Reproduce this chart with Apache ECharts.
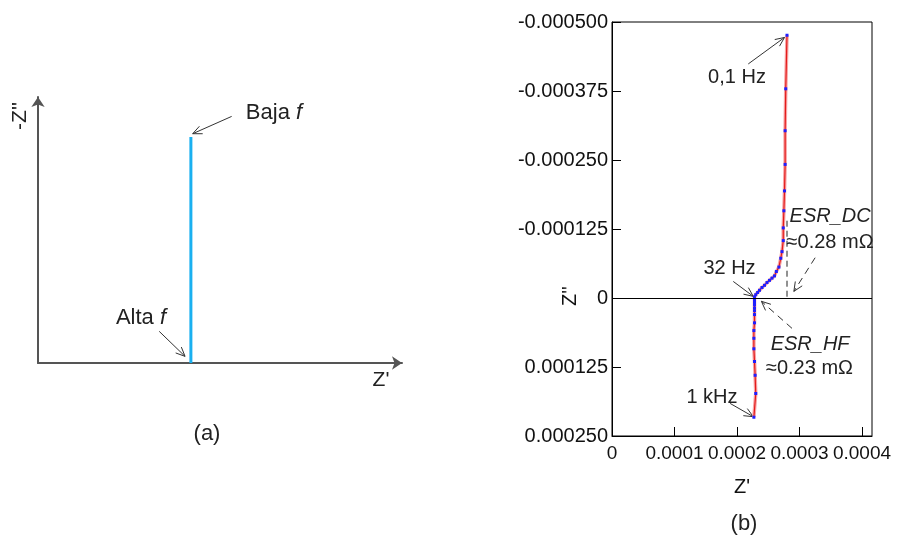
<!DOCTYPE html>
<html>
<head>
<meta charset="utf-8">
<script src="https://cdn.jsdelivr.net/npm/echarts@6/dist/echarts.min.js"></script>
<style>
  html, body { margin: 0; padding: 0; background: #fff; }
  #chart { width: 907px; height: 536px; }
</style>
</head>
<body>
<div id="chart"></div>
<script>
// (b) Measured impedance, ordered from 0.1 Hz down to 1 kHz (values in ohms)
const zReal = [
  0.000280, 0.000278, 0.000277, 0.000277, 0.000276, 0.000275, 0.000274, 0.000274,
  0.000272, 0.000270, 0.000267, 0.000263, 0.000260, 0.000256, 0.000252, 0.000248,
  0.000244, 0.000240, 0.000236, 0.000233, 0.000230, 0.000228,
  0.000228, 0.000228, 0.000228, 0.000228, 0.000228, 0.000228, 0.000228, 0.000227,
  0.000227, 0.000227, 0.000228, 0.000229, 0.000230, 0.000227
];
const zImag = [
  -0.000476, -0.000379, -0.000303, -0.000242, -0.000194, -0.000158, -0.000127, -0.000104,
  -0.000084, -0.000072, -0.000056, -0.000048, -0.000040, -0.000036, -0.000032, -0.000028,
  -0.000023, -0.000019, -0.000014, -0.000010, -0.000006, -0.000002,
  0.000003, 0.000008, 0.000012, 0.000018, 0.000023, 0.000030, 0.000045, 0.000059,
  0.000073, 0.000092, 0.000115, 0.000140, 0.000173, 0.000216
];
const xTickLabels = ['0', '0.0001', '0.0002', '0.0003', '0.0004'];
const yTickLabels = ['-0.000500', '-0.000375', '-0.000250', '-0.000125', '0', '0.000125', '0.000250'];

// Equivalent series resistances
const esrDC = 0.00028;
const esrHF = 0.00023;
const esrDCTop = -0.00014;

// (a) Ideal capacitor: a vertical line at constant Z'
const idealReal = [0.42, 0.42];
const idealImag = [0, 0.85];

const X_MIN = 0, X_MAX = 0.000416, X_STEP = 0.0001;
const Y_MIN = -0.0005, Y_MAX = 0.00025, Y_STEP = 0.000125;

const FONT = '"Liberation Sans", Arial, sans-serif';
const INK = '#222';

const chart = echarts.init(document.getElementById('chart'), null, { renderer: 'canvas' });

function zip(a, b) { return a.map((v, i) => [v, b[i]]); }

function tickText(labels, min, step) {
  return function (v) {
    const k = (v - min) / step;
    const i = Math.round(k);
    if (Math.abs(k - i) > 1e-6 || i < 0 || i >= labels.length) return '';
    return labels[i];
  };
}

const nyquist = zip(zReal, zImag);

chart.setOption({
  animation: false,
  backgroundColor: '#fff',
  grid: [
    { left: 612, top: 22, width: 260, height: 414, show: true, borderColor: '#000', borderWidth: 1, backgroundColor: 'transparent' },
    { left: 38, top: 97, width: 364, height: 266 }
  ],
  xAxis: [
    {
      gridIndex: 0, type: 'value', min: X_MIN, max: X_MAX, interval: X_STEP, position: 'bottom',
      axisLine: { onZero: false, lineStyle: { color: '#000', width: 1 } },
      axisTick: { inside: true, length: 9, lineStyle: { color: '#000' } },
      axisLabel: { formatter: tickText(xTickLabels, X_MIN, X_STEP), showMaxLabel: false, color: '#111', fontSize: 19, fontFamily: FONT, margin: 8 },
      splitLine: { show: false }
    },
    {
      gridIndex: 1, type: 'value', min: 0, max: 1,
      axisLine: { onZero: false, symbol: ['none', 'arrow'], symbolSize: [10, 10], lineStyle: { color: '#555', width: 2 } },
      axisTick: { show: false }, axisLabel: { show: false }, splitLine: { show: false }
    }
  ],
  yAxis: [
    {
      gridIndex: 0, type: 'value', inverse: true, min: Y_MIN, max: Y_MAX, interval: Y_STEP,
      axisLine: { onZero: false, lineStyle: { color: '#000', width: 1 } },
      axisTick: { inside: true, length: 9, lineStyle: { color: '#000' } },
      axisLabel: { formatter: tickText(yTickLabels, Y_MIN, Y_STEP), color: '#111', fontSize: 20, fontFamily: FONT, margin: 4 },
      splitLine: { show: false }
    },
    {
      gridIndex: 1, type: 'value', min: 0, max: 1,
      axisLine: { onZero: false, symbol: ['none', 'arrow'], symbolSize: [10, 10], lineStyle: { color: '#555', width: 2 } },
      axisTick: { show: false }, axisLabel: { show: false }, splitLine: { show: false }
    }
  ],
  series: [
    {
      // soft halo under the measured curve
      type: 'line', xAxisIndex: 0, yAxisIndex: 0, data: nyquist, showSymbol: false, silent: true,
      lineStyle: { color: '#f7a3a3', width: 3.5 }, z: 2
    },
    {
      type: 'line', xAxisIndex: 0, yAxisIndex: 0, data: nyquist,
      symbol: 'rect', symbolSize: 3, showSymbol: true,
      itemStyle: { color: '#1f1fff' },
      lineStyle: { color: '#e41b1b', width: 1.2 }, z: 3,
      markLine: {
        silent: true, symbol: ['none', 'none'], label: { show: false },
        lineStyle: { color: '#000', width: 1, type: 'solid' },
        data: [{ yAxis: 0 }]
      }
    },
    {
      // ESR_DC reference
      type: 'line', xAxisIndex: 0, yAxisIndex: 0, data: [[esrDC, esrDCTop], [esrDC, 0]],
      showSymbol: false, silent: true,
      lineStyle: { color: '#222', width: 1, type: [6, 4] }, z: 1
    },
    {
      type: 'line', xAxisIndex: 1, yAxisIndex: 1, data: zip(idealReal, idealImag),
      showSymbol: false, silent: true,
      lineStyle: { color: '#1ab0f0', width: 3 }
    }
  ]
});

// ---- annotations -------------------------------------------------------
function px(grid, pt) { return chart.convertToPixel({ gridIndex: grid }, pt); }

function arrow(p0, p1, dashed) {
  const ang = Math.atan2(p1[1] - p0[1], p1[0] - p0[0]);
  const L = 10, a = 0.42;
  const h1 = [p1[0] - L * Math.cos(ang - a), p1[1] - L * Math.sin(ang - a)];
  const h2 = [p1[0] - L * Math.cos(ang + a), p1[1] - L * Math.sin(ang + a)];
  const style = { stroke: '#333', lineWidth: 1, fill: null };
  return [
    { type: 'line', silent: true, shape: { x1: p0[0], y1: p0[1], x2: p1[0], y2: p1[1] },
      style: Object.assign({}, style, dashed ? { lineDash: [7, 5] } : {}) },
    { type: 'polyline', silent: true, shape: { points: [h1, p1, h2] }, style: style }
  ];
}

function label(p, text, opts, rotation) {
  const el = {
    type: 'text', silent: true, x: p[0], y: p[1],
    style: Object.assign({
      text: text, fill: INK, fontSize: 20, fontFamily: FONT,
      align: 'center', verticalAlign: 'middle'
    }, opts || {})
  };
  if (rotation) el.rotation = rotation;
  return el;
}

const italicF = {
  n: { fontSize: 22, fontFamily: FONT, fill: INK },
  i: { fontSize: 22, fontFamily: FONT, fontStyle: 'italic', fill: INK }
};

const g = [];
// panel (b)
g.push(label(px(0, [0.000200, -0.000400]), '0,1 Hz'));
g.push(...arrow(px(0, [0.000218, -0.000424]), px(0, [0.000276, -0.000472]), false));
g.push(label(px(0, [0.000188, -0.000054]), '32 Hz'));
g.push(...arrow(px(0, [0.000194, -0.000030]), px(0, [0.000226, -0.000003]), false));
g.push(label(px(0, [0.000349, -0.000147]), 'ESR_DC', { fontStyle: 'italic' }));
g.push(label(px(0, [0.000349, -0.000101]), '\u22480.28 m\u03A9'));
g.push(...arrow(px(0, [0.000325, -0.000073]), px(0, [0.000291, -0.000012]), true));
g.push(label(px(0, [0.000317, 0.000085]), 'ESR_HF', { fontStyle: 'italic' }));
g.push(label(px(0, [0.000316, 0.000127]), '\u22480.23 m\u03A9'));
g.push(...arrow(px(0, [0.000288, 0.000055]), px(0, [0.000239, 0.000006]), true));
g.push(label(px(0, [0.000160, 0.000180]), '1 kHz'));
g.push(...arrow(px(0, [0.000189, 0.000191]), px(0, [0.000226, 0.000215]), false));
// axis titles of (b)
g.push(label([570, 296], "Z''", { fontSize: 20, fill: '#111' }, Math.PI / 2));
g.push(label([742, 487], "Z'", { fontSize: 20, fill: '#111' }));

// panel (a)
g.push(label(px(1, [0.571, 0.939]), '{n|Baja }{i|f}', { align: 'left', rich: italicF, fontSize: 22 }));
g.push(...arrow(px(1, [0.532, 0.927]), px(1, [0.425, 0.862]), false));
g.push(label(px(1, [0.283, 0.169]), '{n|Alta }{i|f}', { rich: italicF, fontSize: 22 }));
g.push(...arrow(px(1, [0.333, 0.119]), px(1, [0.404, 0.025]), false));
g.push(label([381, 380], "Z'", { fontSize: 21 }));
g.push(label([20, 116], "-Z''", { fontSize: 21 }, Math.PI / 2));

// panel captions
g.push(label([207, 434], '(a)', { fontSize: 22 }));
g.push(label([744, 524], '(b)', { fontSize: 22 }));

chart.setOption({ graphic: { elements: g } });
</script>
</body>
</html>
